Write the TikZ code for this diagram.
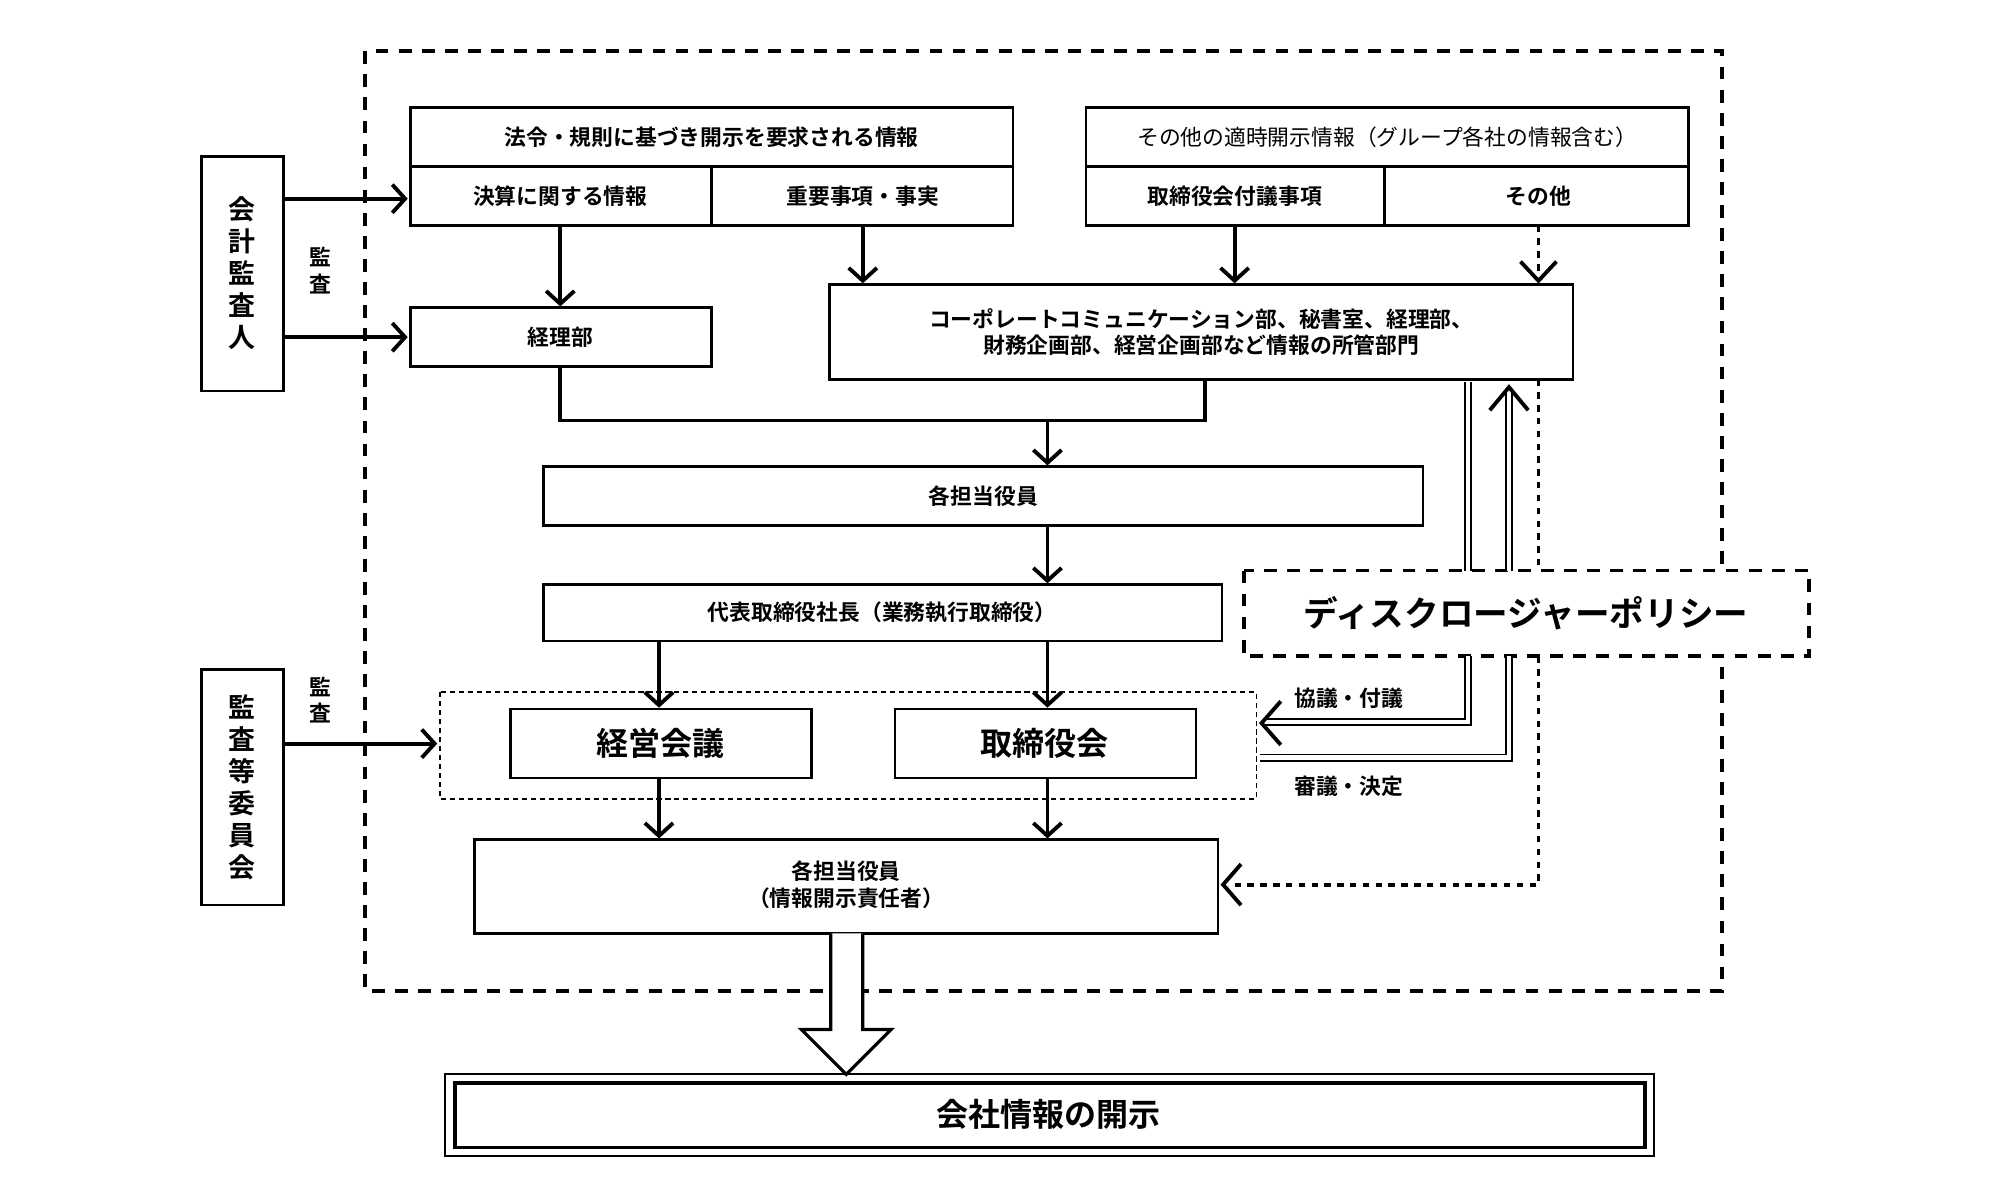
\documentclass[tikz,border=0pt]{standalone}
\usepackage{fontspec}
\setmainfont{Noto Sans CJK JP}[BoldFont={Noto Sans CJK JP Bold}]
\usetikzlibrary{arrows.meta}
\begin{document}
\begin{tikzpicture}[x=1pt,y=-1pt,font=\bfseries\fontsize{17}{21}\selectfont,
  box/.style={draw,line width=2pt,inner sep=0pt},
  arr/.style={line width=3pt,-{Straight Barb[length=10pt,width=22pt,line width=3pt]}},
  tdash/.style={line width=3pt,dash pattern=on 10pt off 8pt},
  dbl/.style={double,double distance=3.5pt,line width=1.4pt},
  hd/.style={line width=3pt},
  dotl/.style={line width=3pt,dash pattern=on 5pt off 5pt}]
\useasboundingbox (0,0) rectangle (1560,936);
% outer dashed frame
\draw[tdash] (285,40) rectangle (1343,773);
% auditors
\draw[box] (157,122) rectangle (221,305);
\node[align=center,font=\bfseries\fontsize{21}{25}\selectfont] (kaikei) at (189,213) {会\\計\\監\\査\\人};
\node[align=center] (l1) at (250,211) {監\\査};
\draw[box] (157,522) rectangle (221,706);
\node[align=center,font=\bfseries\fontsize{21}{25}\selectfont] (kansa) at (189,614) {監\\査\\等\\委\\員\\会};
\node[align=center] (l2) at (250,546) {監\\査};
% top left box
\draw[box] (320,84) rectangle (790,176);
\draw[line width=2pt] (320,130) -- (790,130) (555,130) -- (555,176);
\node (h1) at (555,107) {法令・規則に基づき開示を要求される情報};
\node (kessan) at (437,153) {決算に関する情報};
\node (juyo) at (673,153) {重要事項・事実};
% top right box
\draw[box] (847,84) rectangle (1317,176);
\draw[line width=2pt] (847,130) -- (1317,130) (1080,130) -- (1080,176);
\node[font=\fontsize{17}{21}\selectfont] (h2) at (1082,107) {その他の適時開示情報（グループ各社の情報含む）};
\node (fugi) at (963,153) {取締役会付議事項};
\node (sonota) at (1200,153) {その他};
% nodes
\draw[box] (320,240) rectangle (555,286); \node (keiri) at (437,263) {経理部};
\draw[box] (647,222) rectangle (1227,296);
\node[align=center] (corp) at (937,259) {コーポレートコミュニケーション部、秘書室、経理部、\\財務企画部、経営企画部など情報の所管部門};
\draw[box] (424,364) rectangle (1110,410); \node (tanto) at (767,387) {各担当役員};
\draw[box] (424,456) rectangle (953,500); \node (daihyo) at (688,478) {代表取締役社長（業務執行取締役）};
\draw[line width=1.4pt,dash pattern=on 4pt off 3pt] (343,540) rectangle (980,623);
\draw[box] (398,553) rectangle (633,607); \node[font=\bfseries\fontsize{25}{29}\selectfont] (keiei) at (515,580) {経営会議};
\draw[box] (698,553) rectangle (933,607); \node[font=\bfseries\fontsize{25}{29}\selectfont] (tori) at (815,580) {取締役会};
\draw[box] (370,655) rectangle (950,728);
\node[align=center] (sekinin) at (660,690) {各担当役員\\（情報開示責任者）};
\draw[line width=1.6pt] (347,838) rectangle (1290,902);
\draw[line width=3pt] (355,845) rectangle (1283,895);
\node[font=\bfseries\fontsize{25}{29}\selectfont] (kaiji) at (818,869) {会社情報の開示};
\draw[tdash,fill=white] (970,445) rectangle (1411,512);
\node[font=\bfseries\fontsize{27}{31}\selectfont] (dp) at (1190,478) {ディスクロージャーポリシー};
% arrows
\draw[arr] (221,155) -- (318,155);
\draw[arr] (221,263) -- (318,263);
\draw[arr] (221,580) -- (341,580);
\draw[arr] (437,176) -- (437,239);
\draw[arr] (673,176) -- (673,221);
\draw[arr] (963,176) -- (963,221);
\draw[dotl] (1200,176) -- (1200,212);
\draw[hd] (1186,204) -- (1200,219) -- (1214,204);
\draw[line width=3pt] (437,286) -- (437,328) -- (940,328) -- (940,296);
\draw[arr] (817,328) -- (817,363);
\draw[arr] (817,410) -- (817,455);
\draw[arr] (514,500) -- (514,552);
\draw[arr] (817,500) -- (817,552);
\draw[arr] (514,607) -- (514,654);
\draw[arr] (817,607) -- (817,654);
% double lines to disclosure policy
\draw[dbl] (1145,298) -- (1145,445);
\draw[dbl] (1177,445) -- (1177,304);
\draw[hd] (1162,320) -- (1177,302) -- (1192,320);
\draw[dotl] (1200,296) -- (1200,445);
\draw[dotl] (1200,512) -- (1200,690) -- (958,690);
\draw[hd] (968,674) -- (954,690) -- (968,706);
\draw[dbl] (1145,512) -- (1145,563) -- (985,563);
\draw[hd] (999,547) -- (984,564) -- (999,581);
\draw[dbl] (1177,512) -- (1177,591) -- (983,591);
\node (kyogi) at (1052,545) {協議・付議};
\node (shingi) at (1052,613) {審議・決定};
% big hollow arrow
\draw[line width=2.5pt,fill=white] (648,728) -- (648,803) -- (625,803) -- (660,838) -- (695,803) -- (673,803) -- (673,728);
\end{tikzpicture}
\end{document}
